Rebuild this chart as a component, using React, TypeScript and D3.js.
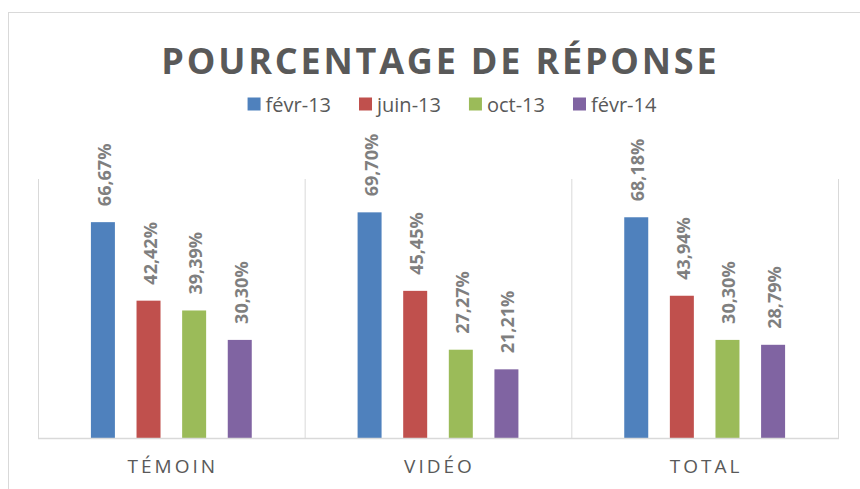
import React, { useEffect, useRef } from "react";
import * as d3 from "d3";

const categories = ["TÉMOIN", "VIDÉO", "TOTAL"];
const seriesNames = ["févr-13", "juin-13", "oct-13", "févr-14"];
const fevr13 = [66.67, 69.7, 68.18];
const juin13 = [42.42, 45.45, 43.94];
const oct13 = [39.39, 27.27, 30.3];
const fevr14 = [30.3, 21.21, 28.79];
const seriesValues = [fevr13, juin13, oct13, fevr14];
const colors = ["#4f81bd", "#c0504d", "#9bbb59", "#8064a2"];
const title = "POURCENTAGE DE RÉPONSE";

const W = 860;
const H = 489;
const FONT = "'Open Sans', 'Liberation Sans', sans-serif";

export default function App() {
  const ref = useRef<SVGSVGElement>(null);

  useEffect(() => {
    const svg = d3.select(ref.current);
    svg.selectAll("*").remove();

    const left = 38, right = 838, top = 179, bottom = 438;

    // chart frame
    svg.append("rect")
      .attr("x", 8.5).attr("y", 12.5).attr("width", 1000).attr("height", 800)
      .attr("fill", "#fff").attr("stroke", "#d9d9d9").attr("stroke-width", 1);

    // title
    svg.append("text")
      .attr("x", 439 + 1.4).attr("y", 74)
      .attr("text-anchor", "middle")
      .attr("font-family", FONT).attr("font-weight", 700).attr("font-size", 36)
      .attr("letter-spacing", 2.8)
      .attr("fill", "#595959")
      .text(title);

    const x0 = d3.scaleBand<string>().domain(categories).range([left, right]).paddingInner(0).paddingOuter(0);
    const x1 = d3.scaleBand<string>().domain(seriesNames).range([0, x0.bandwidth()]).paddingInner(0.474).paddingOuter(1.16);
    const y = d3.scaleLinear().domain([0, 80]).range([bottom, top]);

    // vertical separators
    const seps = [...categories.map((c) => x0(c) as number), right];
    svg.append("g").selectAll("line").data(seps).join("line")
      .attr("x1", (d) => d + 0.5).attr("x2", (d) => d + 0.5)
      .attr("y1", top).attr("y2", bottom)
      .attr("stroke", "#d9d9d9").attr("stroke-width", 1);

    // bars
    const g = svg.append("g");
    seriesNames.forEach((s, si) => {
      const vals = seriesValues[si];
      g.selectAll(`rect.s${si}`).data(vals).join("rect")
        .attr("class", `s${si}`)
        .attr("x", (_, i) => (x0(categories[i]) as number) + (x1(s) as number))
        .attr("y", (d) => y(d))
        .attr("width", x1.bandwidth())
        .attr("height", (d) => bottom - y(d))
        .attr("fill", colors[si]);
      g.selectAll(`text.s${si}`).data(vals).join("text")
        .attr("class", `s${si}`)
        .attr("transform", (d, i) => {
          const cx = (x0(categories[i]) as number) + (x1(s) as number) + x1.bandwidth() / 2 + 1;
          return `translate(${cx},${y(d) - 16}) rotate(-90)`;
        })
        .attr("dominant-baseline", "central")
        .attr("text-anchor", "start")
        .attr("font-family", FONT).attr("font-weight", 700).attr("font-size", 18)
        .attr("fill", "#7f7f7f")
        .text((d) => d.toFixed(2).replace(".", ",") + "%");
    });

    // baseline
    svg.append("line")
      .attr("x1", left).attr("x2", right + 1)
      .attr("y1", bottom + 0.5).attr("y2", bottom + 0.5)
      .attr("stroke", "#d9d9d9").attr("stroke-width", 1.5);

    // category labels
    svg.append("g").selectAll("text").data(categories).join("text")
      .attr("x", (d) => (x0(d) as number) + x0.bandwidth() / 2 + 1.5)
      .attr("y", 473)
      .attr("text-anchor", "middle")
      .attr("font-family", FONT).attr("font-size", 19)
      .attr("letter-spacing", 3)
      .attr("fill", "#595959")
      .text((d) => d);

    // legend
    const lg = svg.append("g");
    const items = lg.selectAll("g").data(seriesNames).join("g");
    items.append("rect").attr("width", 13).attr("height", 13).attr("y", -6.5)
      .attr("fill", (_, i) => colors[i]);
    const texts = items.append("text").attr("x", 18).attr("dominant-baseline", "central")
      .attr("font-family", FONT).attr("font-size", 20).attr("fill", "#595959")
      .text((d) => d);
    const widths: number[] = [];
    texts.each(function () { widths.push((this as SVGTextElement).getComputedTextLength()); });
    const gap = 28;
    const itemW = widths.map((w) => 18 + w);
    const total = d3.sum(itemW) + gap * (itemW.length - 1);
    let cx = 452 - total / 2;
    const offs: number[] = [];
    itemW.forEach((w) => { offs.push(cx); cx += w + gap; });
    items.attr("transform", (_, i) => `translate(${offs[i]},104)`);
  }, []);

  return (
    <svg ref={ref} width={W} height={H}
      style={{ position: "absolute", left: 0, top: 0, background: "#fff" }} />
  );
}
